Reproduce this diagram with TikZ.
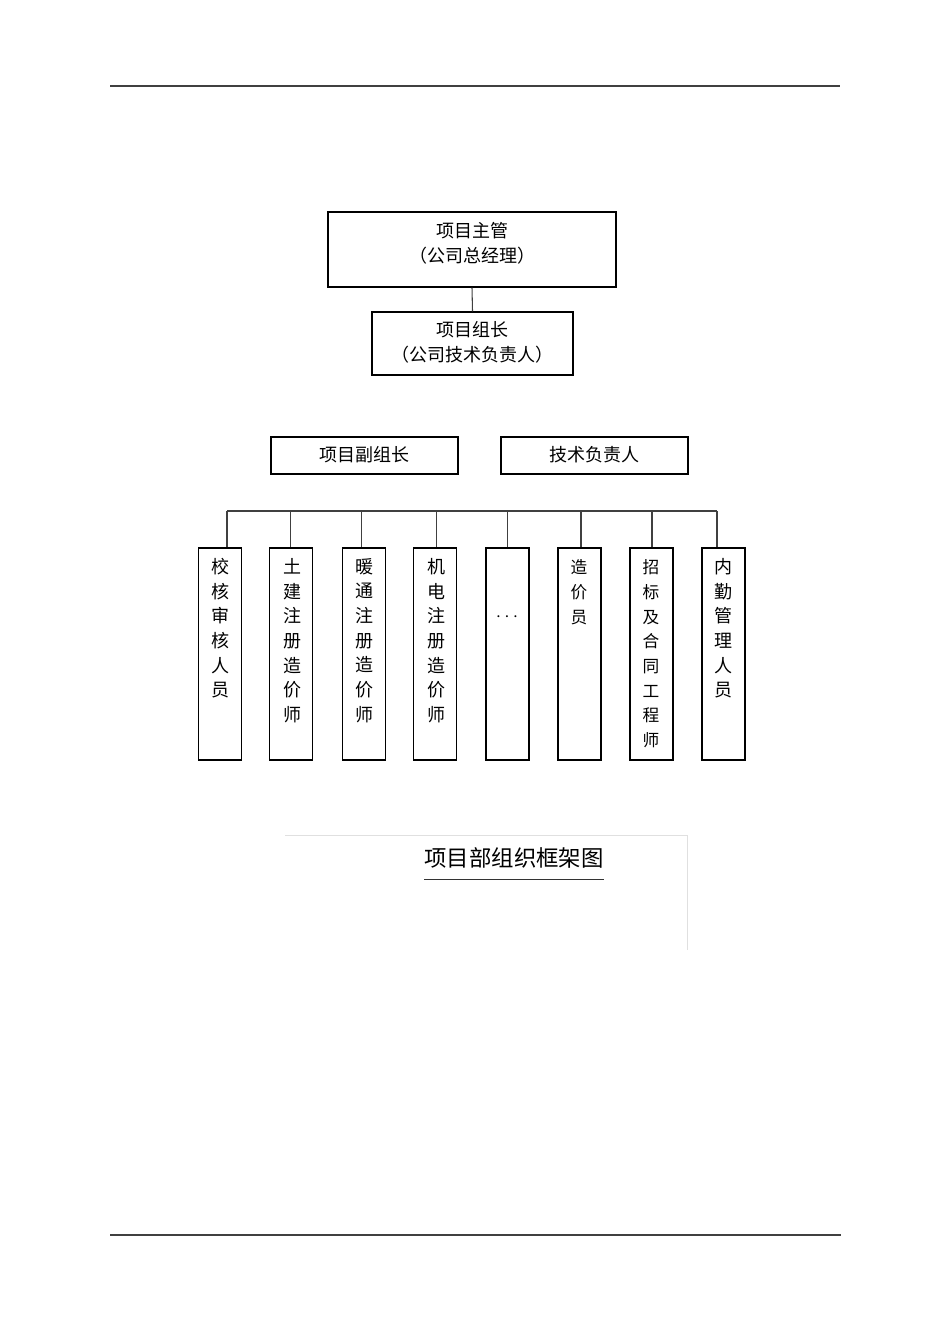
\documentclass[tikz,border=0pt]{standalone}
\usepackage{fontspec}
\newfontfamily\cjk{Noto Sans CJK SC}
\begin{document}
\begin{tikzpicture}[x=0.75pt,y=-0.75pt,
  hbox/.style={draw=black,line width=1pt,inner sep=0pt},
  htext/.style={inner sep=0pt,align=center,
    font=\cjk\fontsize{13.5pt}{18.75pt}\selectfont},
  vbox/.style={draw=black,line width=0.8pt,inner sep=0pt,
    minimum width=43*0.75pt,minimum height=212*0.75pt},
  vtext/.style={inner sep=0pt,align=center,anchor=north,
    font=\cjk\fontsize{13.5pt}{18.5pt}\selectfont},
  vtexts/.style={inner sep=0pt,align=center,anchor=north,
    font=\cjk\fontsize{12.5pt}{18.5pt}\selectfont},
  conn/.style={draw=black!75,line width=0.8pt},
  rule/.style={draw=black!75,line width=0.8pt}]
\useasboundingbox (0,0) rectangle (950,1344);
% header/footer rules
\coordinate (hl) at (110,86); \coordinate (hr) at (840,86);
\coordinate (fl) at (110,1235); \coordinate (fr) at (841,1235);
\draw[rule] (hl) -- (hr);
\draw[rule] (fl) -- (fr);
% top boxes
\node[hbox,minimum width=288*0.75pt,minimum height=75*0.75pt] (top) at (472,249.5) {};
\node[htext] (topt) at (472,243) {项目主管\\（公司总经理）};
\node[hbox,minimum width=201*0.75pt,minimum height=63*0.75pt] (lead) at (472.5,343.5) {};
\node[htext] (leadt) at (472.5,342) {项目组长\\（公司技术负责人）};
\draw[conn] (top.south) -- (lead.north);
\node[hbox,minimum width=187*0.75pt,minimum height=37*0.75pt] (vice) at (364.5,455.5) {};
\node[htext] (vicet) at (364.5,455) {项目副组长};
\node[hbox,minimum width=187*0.75pt,minimum height=37*0.75pt] (tech) at (594.5,455.5) {};
\node[htext] (techt) at (594.5,455) {技术负责人};
% vertical boxes
\node[vbox] (b1) at (220,654) {};
\node[vbox] (b2) at (291,654) {};
\node[vbox] (b3) at (364,654) {};
\node[vbox] (b4) at (435,654) {};
\node[vbox] (b5) at (507.5,654) {};
\node[vbox] (b6) at (579.5,654) {};
\node[vbox] (b7) at (651.5,654) {};
\node[vbox] (b8) at (723.5,654) {};
\node[vtext] (t1) at (220,558) {校\\核\\审\\核\\人\\员};
\node[vtext] (t2) at (292,558) {土\\建\\注\\册\\造\\价\\师};
\node[vtext] (t3) at (364,558) {暖\\通\\注\\册\\造\\价\\师};
\node[vtext] (t4) at (436,558) {机\\电\\注\\册\\造\\价\\师};
\node[inner sep=0pt,font=\fontsize{15pt}{18pt}\selectfont] (t5) at (507,617) {$\cdots$};
\node[vtexts] (t6) at (579,559.5) {造\\价\\员};
\node[vtexts] (t7) at (651,559.5) {招\\标\\及\\合\\同\\工\\程\\师};
\node[vtext] (t8) at (723,558) {内\\勤\\管\\理\\人\\员};
% bus
\coordinate (d1) at (227,511);
\coordinate (d2) at (290.7,511);
\coordinate (d3) at (361.7,511);
\coordinate (d4) at (436.7,511);
\coordinate (d5) at (507.5,511);
\coordinate (d6) at (581,511);
\coordinate (d7) at (652,511);
\coordinate (d8) at (717,511);
\draw[conn] (d1) -- (d8);
\foreach \i in {1,...,8} {\draw[conn] (d\i) -- (d\i |- b\i.north);}
% caption
\coordinate (fa) at (285,835); \coordinate (fb) at (687,835); \coordinate (fc) at (687,950);
\draw[draw=black!12,line width=0.75pt] (fa) -- (fb) -- (fc);
\node[inner sep=0pt,font=\cjk\fontsize{16.8pt}{20pt}\selectfont] (title) at (514,858) {项目部组织框架图};
\draw[draw=black!80,line width=0.9pt] ([yshift=-8pt]title.south west) -- ([yshift=-8pt]title.south east);
\end{tikzpicture}
\end{document}
